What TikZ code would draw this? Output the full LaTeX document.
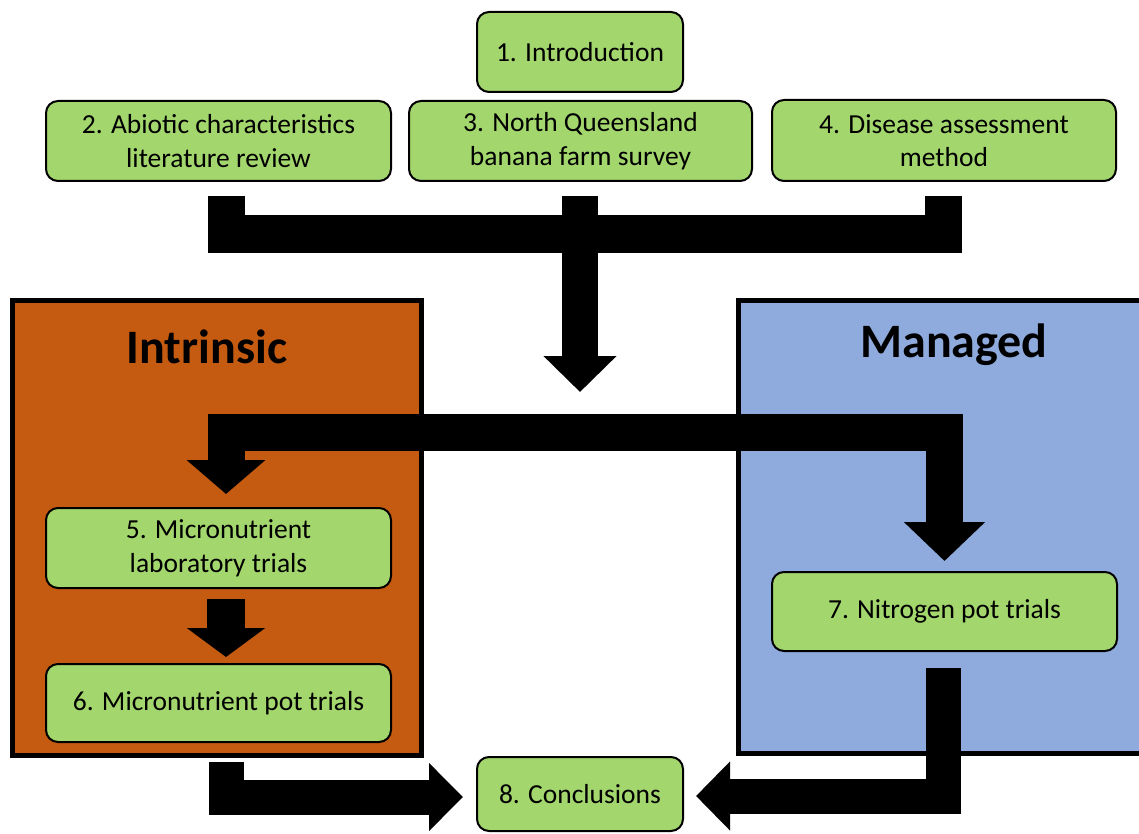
\documentclass[tikz,border=0pt]{standalone}
\usepackage{fontspec}
\setmainfont{Carlito}
\usetikzlibrary{arrows.meta}
\definecolor{boxgreen}{HTML}{A3D66D}
\definecolor{introrange}{HTML}{C55A11}
\definecolor{manblue}{HTML}{8FAADC}
\begin{document}
\begin{tikzpicture}[x=1pt,y=-1pt,
  stepbox/.style={draw=black, line width=2pt, fill=boxgreen, rounded corners=12pt,
    align=center, font=\fontsize{27.5}{33.5}\selectfont, inner sep=0pt},
  groupbox/.style={draw=black, line width=5pt},
  grouplabel/.style={font=\fontsize{48}{54}\selectfont\bfseries},
  blockline/.style={line width=#1, line join=miter, draw=black},
]
\useasboundingbox (0,0) rectangle (1139,834);
% group boxes
\draw[groupbox, fill=introrange] (12.5,300.5) rectangle (421.5,755.5);
\draw[groupbox, fill=manblue] (738.5,300.5) rectangle (1150,753.5);
\node[grouplabel] (intr) at (207,347) {Intrinsic};
\node[grouplabel] (man) at (954,345) {Managed};

% nodes
\node[stepbox, minimum width=206pt, minimum height=80pt] (b1) at (580,52) {1. Introduction};
\node[stepbox, minimum width=345pt, minimum height=80pt] (b2) at (218.5,141) {2. Abiotic characteristics\\literature review};
\node[stepbox, minimum width=343pt, minimum height=80pt] (b3) at (580.5,141) {3. North Queensland\\banana farm survey};
\node[stepbox, minimum width=344pt, minimum height=81pt] (b4) at (944,140.5) {4. Disease assessment\\method};
\node[stepbox, minimum width=345pt, minimum height=80pt] (b5) at (218.5,548) {5. Micronutrient\\laboratory trials};
\node[stepbox, minimum width=345pt, minimum height=78pt] (b6) at (218.5,703) {6. Micronutrient pot trials};
\node[stepbox, minimum width=345pt, minimum height=79pt] (b7) at (944.5,611.5) {7. Nitrogen pot trials};
\node[stepbox, minimum width=206pt, minimum height=74pt] (b8) at (580,794) {8. Conclusions};

% connector coordinates
\coordinate (s2) at (226,196);
\coordinate (s3) at (580,196);
\coordinate (s4) at (943.5,196);
\coordinate (t1) at (580,392);
\coordinate (t5) at (226,494);
\coordinate (t7) at (944.5,561);
\coordinate (s5) at (226,599);
\coordinate (t6) at (226,657);
\coordinate (s6) at (226,762);
\coordinate (s7) at (943.5,668);
\coordinate (t8l) at (463,797);
\coordinate (t8r) at (696,796);

% top merging bar
\draw[blockline=37pt] (s2) -- (s2 |- 0,234) -- (s4 |- 0,234) -- (s4);
\draw[blockline=36pt, -{Triangle[length=36pt,width=71pt]}] (s3) -- (t1);

% split bar to 5 and 7
\draw[blockline=37pt, {Triangle[length=34pt,width=77pt]}-{Triangle[length=39pt,width=79pt]}]
  (t5) -- (t5 |- 0,432.5) -- (t7 |- 0,432.5) -- (t7);

% 5 -> 6
\draw[blockline=38pt, -{Triangle[length=29pt,width=77pt]}] (s5) -- (t6);

% 6 -> 8
\draw[blockline=35pt, -{Triangle[length=34pt,width=66pt]}] (s6) -- (s6 |- t8l) -- (t8l);
% 7 -> 8
\draw[blockline=35pt, -{Triangle[length=34pt,width=67pt]}] (s7) -- (s7 |- t8r) -- (t8r);
\end{tikzpicture}
\end{document}
